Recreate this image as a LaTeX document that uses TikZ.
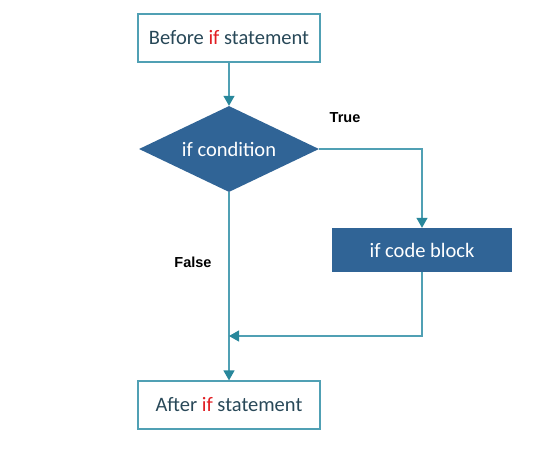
\documentclass[tikz,border=0pt]{standalone}
\usepackage{fontspec}
\setmainfont{Carlito}
\newfontfamily\labelfont{Liberation Sans}
\usetikzlibrary{arrows.meta,shapes.geometric}
\definecolor{chline}{RGB}{80,160,180}
\definecolor{chtip}{RGB}{40,135,155}
\definecolor{chfill}{RGB}{48,100,150}
\definecolor{chtext}{RGB}{40,72,88}
\definecolor{chkey}{RGB}{225,30,35}

\begin{document}
\begin{tikzpicture}[x=1pt,y=-1pt,
  >={Triangle[width=11pt,length=10pt,color=chtip]},
  box/.style={draw=chline,line width=1.2pt,minimum width=182pt,
              minimum height=48pt,inner sep=0pt,text=chtext,font=\fontsize{20.5}{24}\selectfont},
  cond/.style={diamond,fill=chfill,aspect=2.1,minimum width=180pt,
               minimum height=86pt,inner sep=0pt,text=white,font=\fontsize{20.5}{24}\selectfont},
  block/.style={fill=chfill,minimum width=180pt,minimum height=44pt,
                inner sep=0pt,text=white,font=\fontsize{20.5}{24}\selectfont},
  flow/.style={draw=chline,line width=1.2pt},
  lbl/.style={font=\labelfont\bfseries\fontsize{14.5}{16}\selectfont,text=black}]
  \useasboundingbox (0,0) rectangle (546,469);
  \node[box]   (before) at (229,38)  {Before \textcolor{chkey}{if} statement};
  \node[cond]  (test)   at (229,149) {if condition};
  \node[block] (code)   at (422,250) {if code block};
  \node[box]   (after)  at (229,405) {After \textcolor{chkey}{if} statement};
  \coordinate  (merge)  at (229,336);
  % connectors
  \draw[flow,->] (before) -- (test);
  \draw[flow,->] (test.east) -| (code.north);
  \draw[flow,->] (test.south) -- (after.north);
  \draw[flow,->] (code.south) |- (merge);
  \node[lbl] (yes) at (345,118) {True};
  \node[lbl] (no)  at (193,262) {False};
\end{tikzpicture}
\end{document}
